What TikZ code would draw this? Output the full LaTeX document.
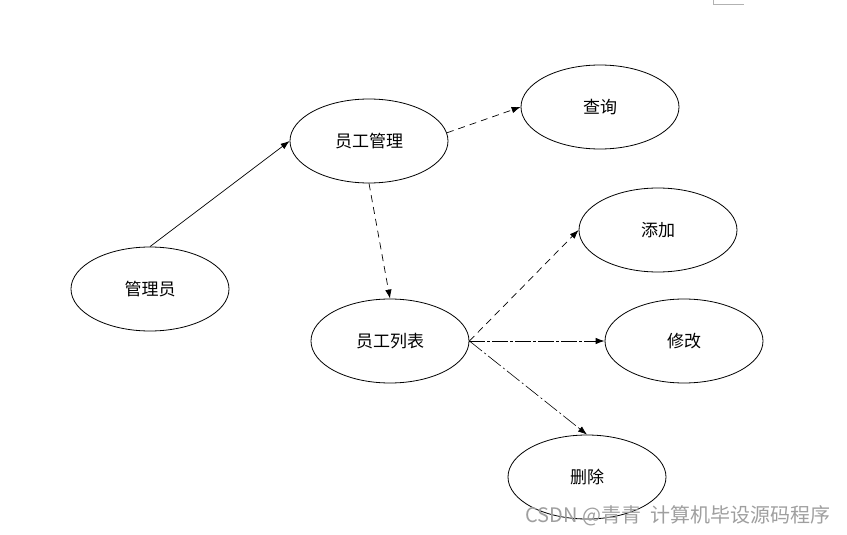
\documentclass[tikz,border=0pt]{standalone}
\usepackage{fontspec}
\setmainfont{Noto Sans CJK SC}
\usetikzlibrary{arrows.meta, shapes.geometric}

\begin{document}
\begin{tikzpicture}[x=1pt, y=-1pt,
    oval/.style={draw, ellipse, line width=0.8pt, minimum width=158pt,
                 minimum height=84pt, inner sep=0pt,
                 font=\fontsize{17}{19}\selectfont},
    link/.style={line width=0.7pt, -{Latex[length=9pt, width=6.5pt]}}
]
    \useasboundingbox (0,0) rectangle (847,535);
    \draw[gray!60, line width=1pt] (713,0) -- (713,5) -- (744,5);
    \foreach \nm/\txt/\x/\y in {
        gly/管理员/150/289,
        yggl/员工管理/369/141,
        cx/查询/600/107,
        tj/添加/658/230,
        yglb/员工列表/390/341,
        xg/修改/684/341,
        sc/删除/587/477
    }{
        \node[oval] (\nm) at (\x,\y) {\txt};
    }
    \draw[link] (gly.north) -- (yggl.west);
    \draw[link, dash pattern=on 7pt off 5pt] (yggl.6) -- (cx.west);
    \draw[link, dash pattern=on 7pt off 5pt] (yggl.south) -- (yglb.north);
    \draw[link, dash pattern=on 7pt off 5pt] (yglb.east) -- (tj.west);
    \draw[link, line width=0.9pt, dash pattern=on 16pt off 2pt on 3pt off 2pt]
        (yglb.east) -- (xg.west);
    \draw[link, line width=0.6pt, dash pattern=on 16pt off 3pt on 2pt off 3pt]
        (yglb.east) -- (sc.north);
    \node[text=gray!75, font=\fontsize{20}{23}\selectfont, anchor=east]
        (mark) at (834,516) {CSDN @青青\ \ 计算机毕设源码程序};
\end{tikzpicture}
\end{document}
